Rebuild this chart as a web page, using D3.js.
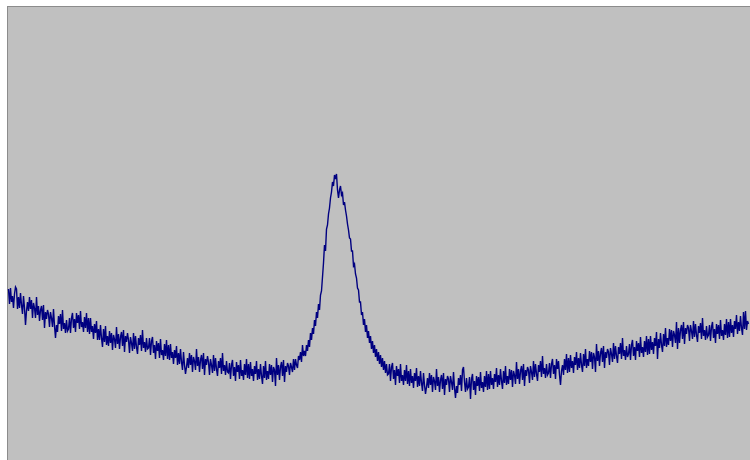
<!DOCTYPE html>
<html>
<head>
<meta charset="utf-8">
<script src="https://cdn.jsdelivr.net/npm/d3@7"></script>
<style>
  html, body { margin: 0; padding: 0; background: #ffffff; }
  svg { display: block; }
</style>
</head>
<body>
<svg id="chart" width="750" height="460"></svg>
<script>
// Measured intensity per detector channel (counts above the plot floor), 20 channels per row
const intensity = [
  171,156,172,158,164,152,166,173,171,151,163,152,167,155,146,164,152,135,149,158,
  149,163,151,160,142,157,152,142,163,145,154,139,150,154,140,155,132,148,141,150,
  146,133,148,142,133,151,134,122,135,128,144,136,146,129,150,131,137,127,140,129,
  131,142,127,142,147,132,141,128,147,137,145,131,149,133,138,128,143,132,147,128,
  142,126,142,128,134,121,136,127,139,120,131,120,135,122,113,131,118,134,115,124,
  114,129,117,127,110,125,121,112,133,116,126,111,123,128,114,130,108,124,118,127,
  120,107,123,117,109,127,111,124,113,106,122,115,125,109,130,112,118,108,122,111,
  112,122,105,119,123,107,115,101,119,109,117,102,121,105,110,100,116,104,120,101,
  115,100,116,102,108,96,110,102,114,95,107,96,111,98,90,108,95,86,93,102,
  92,107,95,105,88,103,99,90,111,94,103,88,100,105,91,107,85,101,95,104,
  98,85,101,95,87,105,89,102,91,84,99,92,102,86,107,89,95,85,99,88,
  87,97,81,95,100,84,93,79,98,88,95,81,100,84,90,80,96,85,101,82,
  96,81,98,84,91,79,94,86,99,80,91,81,96,84,76,94,82,99,80,89,
  81,96,85,95,78,93,90,74,102,85,95,80,93,98,84,100,78,94,88,97,
  94,85,97,93,88,101,90,101,95,92,104,100,108,98,115,104,109,104,115,109,
  120,113,127,120,132,126,140,134,148,142,156,150,165,169,183,197,215,209,231,235,
  246,252,262,268,278,274,285,281,286,270,262,270,274,265,267,255,258,250,244,236,
  230,222,221,209,209,194,196,186,182,172,170,158,158,145,148,135,141,128,135,122,
  129,117,124,111,119,107,115,103,111,99,108,96,105,93,102,90,99,87,96,85,
  86,96,79,93,97,81,90,75,94,84,91,77,96,79,85,75,90,79,95,76,
  89,74,91,77,84,72,87,79,92,73,84,74,89,77,69,87,75,66,73,82,
  72,87,75,85,68,83,79,70,91,74,83,68,80,85,71,87,65,81,75,84,
  81,68,84,78,70,88,72,62,74,67,82,75,85,69,90,93,78,68,82,71,
  73,83,61,81,86,70,79,65,84,74,83,69,88,72,78,68,84,73,89,70,
  86,71,89,75,82,71,86,78,92,73,85,75,91,79,71,89,77,94,75,84,
  76,91,80,90,73,89,85,76,98,81,91,76,89,94,80,96,74,90,84,93,
  90,77,94,88,80,99,83,96,86,79,95,88,99,83,104,86,92,82,96,85,
  87,97,82,96,101,86,95,81,101,91,99,85,75,89,95,85,101,90,106,87,
  102,88,105,92,99,87,103,95,108,90,102,92,107,95,88,106,94,111,92,101,
  94,109,98,108,91,107,103,88,116,99,109,94,107,112,98,114,92,108,102,111,
  108,95,112,106,98,117,101,114,104,97,113,106,117,101,122,104,110,100,114,103,
  106,116,100,115,120,104,113,100,119,109,117,103,123,107,113,103,119,108,124,105,
  121,106,124,110,118,106,122,114,128,101,121,112,127,115,108,126,114,132,113,122,
  115,131,119,130,113,129,125,117,138,111,132,117,130,135,121,138,116,132,126,135,
  132,119,135,129,121,139,123,136,125,118,134,127,137,121,142,124,130,120,134,123,
  125,135,119,133,138,122,131,117,136,126,135,121,140,124,130,120,136,125,141,122,
  138,123,141,127,135,123,139,131,145,126,138,129,144,132,125,148,131,149,130,139,
  136
];
const channels = intensity.map((_, i) => i);
const intensityRange = [0, 453];

const svg = d3.select("#chart");
const W = 750, H = 460;
const plot = { left: 7, top: 6 };

// plot frame with grey fill
svg.append("rect")
  .attr("x", plot.left + 0.5)
  .attr("y", plot.top + 0.5)
  .attr("width", W - plot.left + 5)
  .attr("height", H - plot.top + 5)
  .attr("fill", "#c0c0c0")
  .attr("stroke", "#8c8c8c")
  .attr("stroke-width", 1);

const x = d3.scaleLinear()
  .domain([0, channels.length - 1])
  .range([8.5, 748.5]);

const y = d3.scaleLinear()
  .domain(intensityRange)
  .range([H, plot.top + 1]);

const line = d3.line()
  .x((d, i) => x(channels[i]))
  .y(d => y(d));

svg.append("path")
  .datum(intensity)
  .attr("fill", "none")
  .attr("stroke", "#000080")
  .attr("stroke-width", 1.4)
  .attr("stroke-linejoin", "miter")
  .attr("d", line);
</script>
</body>
</html>
